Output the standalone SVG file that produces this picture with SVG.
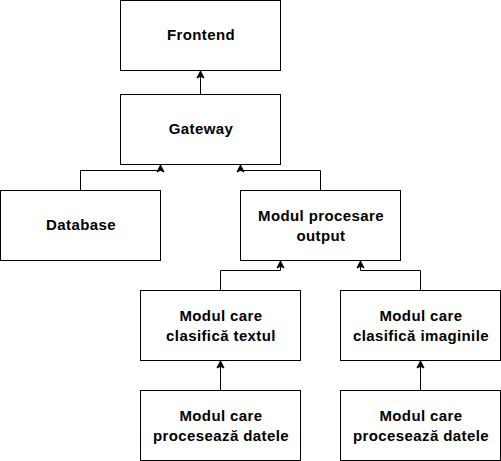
<svg xmlns="http://www.w3.org/2000/svg" width="501" height="461" viewBox="0 0 501 461">
<style>
.box{fill:#fff;stroke:#000;stroke-width:1}
.t{font-family:"Liberation Sans",Arial,sans-serif;font-size:15px;font-weight:bold;fill:#000;text-anchor:middle;letter-spacing:0.4px}
.c{fill:none;stroke:#000;stroke-width:1}
</style>
<defs>
<marker id="a" markerWidth="10" markerHeight="10" refX="8" refY="5" orient="auto" markerUnits="userSpaceOnUse">
<path d="M1,1.5 L8,5 L1,8.5 L2.75,5 Z" fill="#000" stroke="#000" stroke-width="1"/>
</marker>
</defs>
<rect width="501" height="461" fill="#fff"/>
<g id="connectors">
<path class="c" d="M200.5,94.5 V71" marker-end="url(#a)"/>
<path class="c" d="M80.5,190.5 V170.5 H160.5 V165" marker-end="url(#a)"/>
<path class="c" d="M320.5,190.5 V170.5 H240.5 V165" marker-end="url(#a)"/>
<path class="c" d="M220.5,290.5 V270.5 H280.5 V261" marker-end="url(#a)"/>
<path class="c" d="M420.5,290.5 V270.5 H360.5 V261" marker-end="url(#a)"/>
<path class="c" d="M220.5,390.5 V361" marker-end="url(#a)"/>
<path class="c" d="M420.5,390.5 V361" marker-end="url(#a)"/>
</g>
<g id="frontend"><rect class="box" x="120.5" y="0.5" width="160" height="70"/><text class="t" x="201" y="39.5">Frontend</text></g>
<g id="gateway"><rect class="box" x="120.5" y="94.5" width="160" height="70"/><text class="t" x="201" y="133.5">Gateway</text></g>
<g id="database"><rect class="box" x="0.5" y="190.5" width="160" height="70"/><text class="t" x="81" y="229.5">Database</text></g>
<g id="output"><rect class="box" x="240.5" y="190.5" width="160" height="70"/><text class="t" x="321" y="220.5">Modul procesare</text><text class="t" x="321" y="240.5">output</text></g>
<g id="text-classifier"><rect class="box" x="140.5" y="290.5" width="160" height="70"/><text class="t" x="221" y="320.5">Modul care</text><text class="t" x="221" y="340.5">clasifică textul</text></g>
<g id="image-classifier"><rect class="box" x="340.5" y="290.5" width="160" height="70"/><text class="t" x="421" y="320.5">Modul care</text><text class="t" x="421" y="340.5">clasifică imaginile</text></g>
<g id="data-left"><rect class="box" x="140.5" y="390.5" width="160" height="70"/><text class="t" x="221" y="420.5">Modul care</text><text class="t" x="221" y="440.5">procesează datele</text></g>
<g id="data-right"><rect class="box" x="340.5" y="390.5" width="160" height="70"/><text class="t" x="421" y="420.5">Modul care</text><text class="t" x="421" y="440.5">procesează datele</text></g>
</svg>
